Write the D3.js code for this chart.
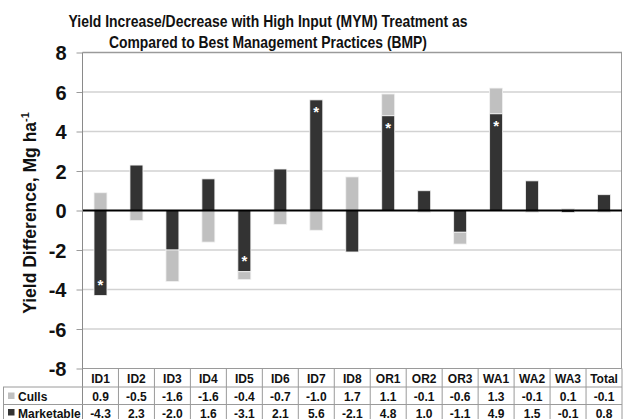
<!DOCTYPE html>
<html>
<head>
<meta charset="utf-8">
<script src="https://cdn.jsdelivr.net/npm/d3@7"></script>
<style>
  html, body { margin: 0; padding: 0; background: #fff; }
  svg { display: block; font-family: "Liberation Sans", Arial, sans-serif; }
</style>
</head>
<body>
<svg id="chart" width="623" height="419"></svg>
<script>
// Sites and the yield difference (Mg/ha) of each component, MYM minus BMP
const sites = ["ID1","ID2","ID3","ID4","ID5","ID6","ID7","ID8","OR1","OR2","OR3","WA1","WA2","WA3","Total"];
const culls = [0.9,-0.5,-1.6,-1.6,-0.4,-0.7,-1.0,1.7,1.1,-0.1,-0.6,1.3,-0.1,0.1,-0.1];
const marketable = [-4.3,2.3,-2.0,1.6,-3.1,2.1,5.6,-2.1,4.8,1.0,-1.1,4.9,1.5,-0.1,0.8];
// Sites with a significant marketable yield difference
const significant = ["ID1","ID5","ID7","OR1","WA1"];
const yTicks = [-8,-6,-4,-2,0,2,4,6,8];
const titleLines = [
  "Yield Increase/Decrease with High Input (MYM) Treatment as",
  "Compared to Best Management Practices (BMP)"
];

// Plain hyphen for negative numbers
const fmtInt = d => String(d);
const fmt1 = d => d.toFixed(1);

const svg = d3.select("#chart");
const plot = { left: 82.5, right: 622, top: 52.5, bottom: 368.5 };

const x = d3.scaleBand().domain(sites).range([plot.left, plot.right]).paddingInner(0.64).paddingOuter(0.32);
const xCol = d3.scaleBand().domain(sites).range([plot.left, plot.right]);
const y = d3.scaleLinear().domain([-8, 8]).range([plot.bottom, plot.top]);

// Title
svg.append("g").selectAll("text").data(titleLines).join("text")
  .attr("x", 268).attr("y", (d, i) => 27 + i * 20.5)
  .attr("text-anchor", "middle")
  .attr("font-size", 17).attr("font-weight", "bold").attr("fill", "#111")
  .attr("textLength", (d, i) => i === 0 ? 399 : 318)
  .attr("lengthAdjust", "spacingAndGlyphs")
  .text(d => d);

// Horizontal gridlines
svg.append("g").selectAll("line").data(yTicks.filter(v => v !== 0 && v !== -8)).join("line")
  .attr("x1", plot.left).attr("x2", plot.right)
  .attr("y1", d => y(d)).attr("y2", d => y(d))
  .attr("stroke", d => d === 8 ? "#9a9a9a" : "#d2d2d2").attr("stroke-width", 1.5);

// Right border of the plot area
svg.append("line").attr("x1", plot.right - 0.5).attr("x2", plot.right - 0.5)
  .attr("y1", plot.top).attr("y2", plot.bottom).attr("stroke", "#9a9a9a");

// Stack: marketable starts at zero, culls continue on the same side when signs agree
const segments = [];
sites.forEach((s, i) => {
  const m = marketable[i], c = culls[i];
  segments.push({ site: s, series: "Marketable", y0: 0, y1: m });
  const base = (Math.sign(c) === Math.sign(m)) ? m : 0;
  segments.push({ site: s, series: "Culls", y0: base, y1: base + c });
});
const colors = { Marketable: "#333333", Culls: "#c0c0c0" };

svg.append("g").selectAll("rect").data(segments).join("rect")
  .attr("x", d => x(d.site))
  .attr("width", x.bandwidth())
  .attr("y", d => y(Math.max(d.y0, d.y1)))
  .attr("height", d => Math.abs(y(d.y0) - y(d.y1)))
  .attr("fill", d => colors[d.series])
  .attr("stroke", "#f2f2f2").attr("stroke-width", 0.8);

// Significance markers inside the marketable segment
svg.append("g").selectAll("text").data(significant).join("text")
  .attr("x", d => x(d) + x.bandwidth() / 2)
  .attr("y", d => {
    const v = marketable[sites.indexOf(d)];
    return v > 0 ? y(v) + 9 + 8.5 : y(v) - 14 + 8.5;
  })
  .attr("text-anchor", "middle").attr("font-size", 15).attr("font-weight", "bold")
  .attr("fill", "#fff").text("*");

// Zero line
svg.append("line").attr("x1", plot.left).attr("x2", plot.right)
  .attr("y1", y(0)).attr("y2", y(0)).attr("stroke", "#000").attr("stroke-width", 2);

// Y axis
const yAxis = svg.append("g").attr("transform", `translate(${plot.left},0)`)
  .call(d3.axisLeft(y).tickValues(yTicks).tickSize(6).tickPadding(10).tickFormat(fmtInt));
yAxis.select(".domain").remove();
yAxis.selectAll(".tick line").attr("stroke", "#9a9a9a");
yAxis.selectAll(".tick text").attr("font-size", 20).attr("font-weight", "bold")
  .attr("fill", "#111").attr("font-family", "Liberation Sans, Arial, sans-serif").attr("dy", "0.36em");
svg.append("line").attr("x1", plot.left).attr("x2", plot.left)
  .attr("y1", plot.top).attr("y2", 419).attr("stroke", "#8a8a8a");

// Y axis title
const yTitle = svg.append("text")
  .attr("transform", "translate(36,213) rotate(-90)")
  .attr("text-anchor", "middle").attr("font-size", 17.5).attr("font-weight", "bold").attr("fill", "#111");
yTitle.append("tspan").text("Yield Difference, Mg ha");
yTitle.append("tspan").attr("font-size", 11).attr("dy", -7).text("-1");

// Data table below the plot
const rowLines = [387, 404.5];
const table = svg.append("g");
table.append("line").attr("x1", plot.left).attr("x2", plot.right).attr("y1", plot.bottom).attr("y2", plot.bottom).attr("stroke", "#9a9a9a");
table.selectAll("line.h").data(rowLines).join("line")
  .attr("x1", 3).attr("x2", plot.right).attr("y1", d => d).attr("y2", d => d)
  .attr("stroke", "#9a9a9a");
table.append("line").attr("x1", 3.5).attr("x2", 3.5).attr("y1", 387).attr("y2", 419).attr("stroke", "#9a9a9a");
table.selectAll("line.v").data(sites).join("line")
  .attr("x1", d => xCol(d) + xCol.bandwidth()).attr("x2", d => xCol(d) + xCol.bandwidth())
  .attr("y1", plot.bottom).attr("y2", 419).attr("stroke", "#9a9a9a");

table.selectAll("text.hdr").data(sites).join("text")
  .attr("x", d => xCol(d) + xCol.bandwidth() / 2).attr("y", 383)
  .attr("text-anchor", "middle").attr("font-size", 12).attr("font-weight", "bold").attr("fill", "#111")
  .text(d => d);

const rows = [
  { name: "Culls", values: culls, y: 401 },
  { name: "Marketable", values: marketable, y: 417.5 }
];
rows.forEach(r => {
  table.append("rect").attr("x", 8).attr("y", r.y - 8.5).attr("width", 6.5).attr("height", 6.5)
    .attr("fill", colors[r.name]);
  table.append("text").attr("x", 18).attr("y", r.y)
    .attr("font-size", 12).attr("font-weight", "bold").attr("fill", "#111").text(r.name);
  table.selectAll(null).data(r.values).join("text")
    .attr("x", (d, i) => xCol(sites[i]) + xCol.bandwidth() / 2).attr("y", r.y)
    .attr("text-anchor", "middle").attr("font-size", 12).attr("font-weight", "bold").attr("fill", "#111")
    .text(fmt1);
});
</script>
</body>
</html>
